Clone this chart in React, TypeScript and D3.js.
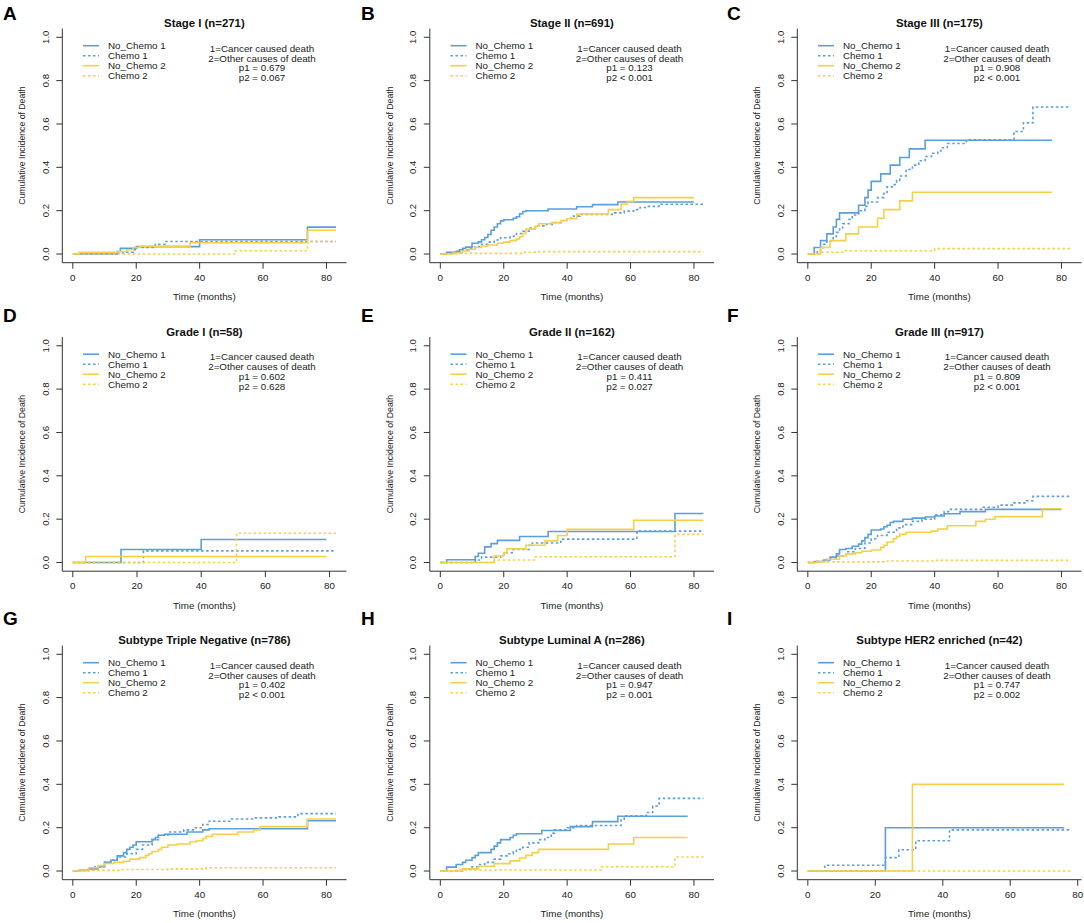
import React from 'react';
import * as d3 from 'd3';

type Step = [number, number];

// panel order: A..I
const letters = ['A', 'B', 'C', 'D', 'E', 'F', 'G', 'H', 'I'];
const titles = [
  'Stage I (n=271)',
  'Stage II (n=691)',
  'Stage III (n=175)',
  'Grade I (n=58)',
  'Grade II (n=162)',
  'Grade III (n=917)',
  'Subtype Triple Negative (n=786)',
  'Subtype Luminal A (n=286)',
  'Subtype HER2 enriched (n=42)',
];
const p1Labels = ['p1 = 0.679', 'p1 = 0.123', 'p1 = 0.908', 'p1 = 0.602', 'p1 = 0.411', 'p1 = 0.809', 'p1 = 0.402', 'p1 = 0.947', 'p1 = 0.747'];
const p2Labels = ['p2 = 0.067', 'p2 < 0.001', 'p2 < 0.001', 'p2 = 0.628', 'p2 = 0.027', 'p2 < 0.001', 'p2 < 0.001', 'p2 = 0.001', 'p2 = 0.002'];
const xMaxes = [83, 83, 83, 82, 83, 83, 83, 83, 78];

const seriesNames = ['No_Chemo 1', 'Chemo 1', 'No_Chemo 2', 'Chemo 2'];
const xTicks = [0, 20, 40, 60, 80];
const yTicks = [0, 0.2, 0.4, 0.6, 0.8, 1.0];

// cumulative incidence step points [time, value], per panel
const noChemo1: Step[][] = [
  [[0, 0], [14, 0.012], [15, 0.026], [20, 0.034], [40, 0.066], [74, 0.124], [83, 0.124]],
  [[0, 0], [2, 0.008], [5, 0.013], [6, 0.02], [7, 0.026], [8, 0.032], [10, 0.05], [12, 0.056], [13, 0.066], [14, 0.076], [15, 0.09], [16, 0.11], [17, 0.125], [18, 0.14], [19, 0.153], [20, 0.158], [23, 0.165], [24, 0.172], [25, 0.186], [26, 0.196], [27, 0.2], [34, 0.208], [43, 0.218], [48, 0.228], [56, 0.24], [80, 0.24]],
  [[0, 0], [2, 0.03], [4, 0.062], [6, 0.093], [8, 0.125], [9, 0.16], [10, 0.19], [16, 0.225], [18, 0.26], [19, 0.295], [20, 0.335], [23, 0.37], [26, 0.41], [29, 0.445], [32, 0.485], [37, 0.525], [77, 0.525]],
  [[0, 0], [15, 0.06], [40, 0.106], [79, 0.106]],
  [[0, 0], [2, 0.013], [11, 0.028], [12, 0.043], [14, 0.072], [16, 0.087], [18, 0.102], [25, 0.12], [34, 0.143], [74, 0.226], [83, 0.226]],
  [[0, 0], [2, 0.005], [5, 0.012], [7, 0.025], [9, 0.04], [10, 0.06], [12, 0.065], [14, 0.075], [16, 0.085], [17, 0.1], [18, 0.115], [19, 0.13], [20, 0.15], [23, 0.155], [24, 0.165], [25, 0.172], [26, 0.185], [27, 0.19], [30, 0.2], [33, 0.205], [37, 0.21], [40, 0.215], [43, 0.225], [48, 0.235], [56, 0.245], [80, 0.245]],
  [[0, 0], [2, 0.003], [5, 0.01], [8, 0.02], [10, 0.04], [12, 0.05], [14, 0.07], [16, 0.085], [17, 0.1], [18, 0.11], [19, 0.12], [20, 0.135], [25, 0.145], [26, 0.155], [27, 0.165], [29, 0.17], [36, 0.18], [41, 0.19], [43, 0.195], [74, 0.232], [83, 0.232]],
  [[0, 0], [2, 0.018], [5, 0.03], [7, 0.04], [8, 0.05], [10, 0.062], [11, 0.072], [12, 0.085], [16, 0.1], [17, 0.115], [18, 0.13], [19, 0.145], [22, 0.155], [23, 0.165], [24, 0.172], [32, 0.187], [41, 0.205], [48, 0.228], [56, 0.253], [78, 0.253]],
  [[0, 0], [23, 0.2], [76, 0.2]],
];

const chemo1: Step[][] = [
  [[0, 0], [10, 0.005], [17, 0.008], [19, 0.02], [20, 0.03], [26, 0.045], [29, 0.058], [83, 0.058]],
  [[0, 0], [3, 0.004], [5, 0.01], [7, 0.018], [9, 0.025], [11, 0.035], [13, 0.045], [15, 0.055], [17, 0.065], [19, 0.075], [22, 0.082], [24, 0.095], [26, 0.105], [28, 0.12], [30, 0.13], [33, 0.137], [36, 0.145], [38, 0.155], [40, 0.165], [42, 0.175], [44, 0.183], [55, 0.19], [58, 0.198], [61, 0.205], [63, 0.215], [65, 0.22], [69, 0.23], [83, 0.23]],
  [[0, 0], [3, 0.01], [4, 0.03], [5, 0.045], [6, 0.06], [8, 0.08], [9, 0.1], [10, 0.12], [11, 0.14], [13, 0.16], [14, 0.18], [16, 0.2], [18, 0.22], [19, 0.24], [22, 0.26], [24, 0.28], [25, 0.31], [27, 0.32], [28, 0.34], [29, 0.36], [31, 0.39], [33, 0.41], [35, 0.43], [37, 0.45], [39, 0.465], [41, 0.475], [42, 0.49], [44, 0.51], [50, 0.527], [65, 0.565], [68, 0.605], [71, 0.678], [83, 0.678]],
  [[0, 0], [22, 0.054], [82, 0.054]],
  [[0, 0], [11, 0.012], [13, 0.025], [19, 0.035], [20, 0.045], [23, 0.06], [28, 0.08], [29, 0.09], [38, 0.108], [62, 0.145], [83, 0.145]],
  [[0, 0], [3, 0.005], [6, 0.015], [9, 0.03], [12, 0.05], [15, 0.065], [18, 0.09], [20, 0.11], [22, 0.125], [25, 0.14], [28, 0.16], [30, 0.175], [33, 0.19], [36, 0.2], [40, 0.22], [43, 0.235], [45, 0.245], [55, 0.255], [60, 0.265], [65, 0.275], [69, 0.285], [71, 0.305], [83, 0.305]],
  [[0, 0], [3, 0.005], [7, 0.02], [10, 0.04], [12, 0.05], [14, 0.065], [17, 0.08], [20, 0.1], [22, 0.12], [25, 0.145], [27, 0.165], [30, 0.18], [35, 0.19], [38, 0.2], [41, 0.215], [43, 0.23], [50, 0.24], [57, 0.245], [65, 0.25], [71, 0.265], [83, 0.265]],
  [[0, 0], [7, 0.008], [10, 0.02], [12, 0.03], [14, 0.04], [17, 0.055], [19, 0.07], [21, 0.08], [23, 0.09], [24, 0.1], [26, 0.11], [28, 0.13], [31, 0.145], [33, 0.155], [35, 0.175], [36, 0.19], [40, 0.2], [43, 0.21], [57, 0.235], [58, 0.255], [65, 0.27], [67, 0.3], [69, 0.335], [83, 0.335]],
  [[0, 0], [5, 0.027], [23, 0.062], [27, 0.098], [32, 0.14], [42, 0.19], [78, 0.19]],
];

const noChemo2: Step[][] = [
  [[0, 0], [2, 0.008], [14, 0.012], [17, 0.02], [19, 0.03], [21, 0.036], [37, 0.052], [74, 0.11], [83, 0.11]],
  [[0, 0], [4, 0.005], [7, 0.014], [9, 0.022], [11, 0.03], [13, 0.036], [15, 0.042], [18, 0.05], [20, 0.055], [22, 0.062], [24, 0.07], [25, 0.08], [26, 0.095], [27, 0.115], [30, 0.128], [31, 0.14], [35, 0.145], [38, 0.155], [40, 0.163], [43, 0.185], [53, 0.205], [57, 0.23], [59, 0.243], [61, 0.26], [80, 0.26]],
  [[0, 0], [4, 0.03], [7, 0.062], [12, 0.093], [16, 0.125], [22, 0.165], [24, 0.205], [29, 0.245], [33, 0.285], [77, 0.285]],
  [[0, 0], [4, 0.028], [79, 0.028]],
  [[0, 0], [17, 0.03], [20, 0.045], [21, 0.063], [27, 0.08], [33, 0.1], [37, 0.125], [40, 0.153], [61, 0.195], [83, 0.195]],
  [[0, 0], [3, 0.005], [6, 0.015], [10, 0.03], [12, 0.04], [15, 0.045], [17, 0.052], [20, 0.058], [23, 0.07], [24, 0.08], [25, 0.095], [27, 0.11], [28, 0.12], [29, 0.13], [31, 0.14], [39, 0.145], [41, 0.155], [44, 0.17], [53, 0.19], [56, 0.2], [59, 0.212], [74, 0.248], [80, 0.248]],
  [[0, 0], [2, 0.005], [5, 0.015], [8, 0.025], [10, 0.035], [13, 0.04], [16, 0.045], [18, 0.055], [21, 0.062], [23, 0.072], [24, 0.08], [25, 0.09], [27, 0.1], [28, 0.11], [30, 0.12], [33, 0.125], [37, 0.135], [39, 0.14], [41, 0.15], [42, 0.16], [44, 0.17], [52, 0.18], [57, 0.19], [59, 0.205], [74, 0.24], [83, 0.24]],
  [[0, 0], [7, 0.01], [12, 0.022], [17, 0.034], [22, 0.047], [25, 0.06], [27, 0.072], [29, 0.085], [31, 0.1], [53, 0.125], [61, 0.155], [78, 0.155]],
  [[0, 0], [31, 0.4], [76, 0.4]],
];

const chemo2: Step[][] = [
  [[0, 0], [51, 0.015], [74, 0.058], [83, 0.058]],
  [[0, 0], [5, 0.003], [26, 0.008], [30, 0.011], [83, 0.011]],
  [[0, 0], [4, 0.008], [11, 0.015], [40, 0.025], [83, 0.025]],
  [[0, 0], [51, 0.135], [82, 0.135]],
  [[0, 0], [17, 0.012], [30, 0.027], [74, 0.13], [83, 0.13]],
  [[0, 0], [3, 0.003], [25, 0.007], [40, 0.01], [83, 0.01]],
  [[0, 0], [5, 0.003], [15, 0.007], [30, 0.01], [42, 0.015], [83, 0.015]],
  [[0, 0], [5, 0.005], [51, 0.02], [74, 0.065], [83, 0.065]],
  [[0, 0], [78, 0]],
];

const BLUE = '#5B9FDC';
const YELLOW = '#F7D04A';
const colors = [BLUE, BLUE, YELLOW, YELLOW];
const dashes = [undefined, '2.5,2.5', undefined, '2.5,2.5'];
const FONT = '"Liberation Sans", Arial, Helvetica, sans-serif';
const AXIS = '#333';

const W = 1084;
const H = 923;
const COL_W = 367.5;
const ROW_H = 308.5;
const plot = { left: 62.3, right: 346.5, top: 28.6, bottom: 262.7 };
const letterX = [3, 361, 727];
const letterY = [20, 322, 625];

const Panel: React.FC<{ i: number }> = ({ i }) => {
  const col = i % 3;
  const row = Math.floor(i / 3);
  const xmax = xMaxes[i];
  const x = d3.scaleLinear().domain([-0.04 * xmax, 1.04 * xmax]).range([plot.left, plot.right]);
  const y = d3.scaleLinear().domain([-0.04, 1.04]).range([plot.bottom, plot.top]);
  const line = d3
    .line<Step>()
    .x((d) => x(d[0]))
    .y((d) => y(d[1]))
    .curve(d3.curveStepAfter);
  const curves = [noChemo1[i], chemo1[i], noChemo2[i], chemo2[i]];
  const midX = (plot.left + plot.right) / 2;
  const infoX = 262;

  return (
    <g transform={`translate(${col * COL_W},${row * ROW_H})`} fontFamily={FONT}>
      <text x={midX} y={27} textAnchor="middle" fontWeight="bold" fontSize={11.4} fill="#111">
        {titles[i]}
      </text>

      {/* curves */}
      {curves.map((c, k) => (
        <path
          key={k}
          d={line(c) || ''}
          fill="none"
          stroke={colors[k]}
          strokeWidth={1.6}
          strokeDasharray={dashes[k]}
        />
      ))}

      {/* axes, bty = "l" */}
      <line x1={plot.left} x2={plot.right} y1={plot.bottom} y2={plot.bottom} stroke={AXIS} strokeWidth={1} />
      <line x1={plot.left} x2={plot.left} y1={plot.top} y2={plot.bottom} stroke={AXIS} strokeWidth={1} />
      {xTicks.map((t) => (
        <g key={t}>
          <line x1={x(t)} x2={x(t)} y1={plot.bottom} y2={plot.bottom + 6} stroke={AXIS} />
          <text x={x(t)} y={280.5} textAnchor="middle" fontSize={9.8} fill="#222">
            {t}
          </text>
        </g>
      ))}
      {yTicks.map((t) => (
        <g key={t}>
          <line x1={plot.left - 6} x2={plot.left} y1={y(t)} y2={y(t)} stroke={AXIS} />
          <text
            transform={`translate(48.8,${y(t)}) rotate(-90)`}
            textAnchor="middle"
            fontSize={9.6}
            fill="#222"
          >
            {t.toFixed(1)}
          </text>
        </g>
      ))}
      <text x={midX} y={300} textAnchor="middle" fontSize={9.8} fill="#222">
        Time (months)
      </text>
      <text
        transform={`translate(25.3,${(plot.top + plot.bottom) / 2}) rotate(-90)`}
        textAnchor="middle"
        fontSize={8.7}
        fill="#222"
      >
        Cumulative Incidence of Death
      </text>

      {/* legend */}
      {seriesNames.map((s, k) => (
        <g key={s}>
          <line
            x1={83}
            x2={99}
            y1={45.7 + k * 10}
            y2={45.7 + k * 10}
            stroke={colors[k]}
            strokeWidth={1.6}
            strokeDasharray={dashes[k]}
          />
          <text x={108} y={45.7 + k * 10 + 3.5} fontSize={9.8} fill="#222">
            {s}
          </text>
        </g>
      ))}
      {['1=Cancer caused death', '2=Other causes of death', p1Labels[i], p2Labels[i]].map((s, k) => (
        <text key={k} x={infoX} y={51.8 + k * 9.8} textAnchor="middle" fontSize={9.8} fill="#222">
          {s}
        </text>
      ))}
    </g>
  );
};

export default function App() {
  return (
    <svg
      width={W}
      height={H}
      viewBox={`0 0 ${W} ${H}`}
      style={{ position: 'absolute', left: 0, top: 0, background: '#fff' }}
    >
      <rect width={W} height={H} fill="#fff" />
      {letters.map((_, i) => (
        <Panel key={i} i={i} />
      ))}
      {letters.map((l, i) => (
        <text
          key={l}
          x={letterX[i % 3]}
          y={letterY[Math.floor(i / 3)]}
          fontFamily={FONT}
          fontWeight="bold"
          fontSize={19}
          fill="#000"
        >
          {l}
        </text>
      ))}
    </svg>
  );
}
